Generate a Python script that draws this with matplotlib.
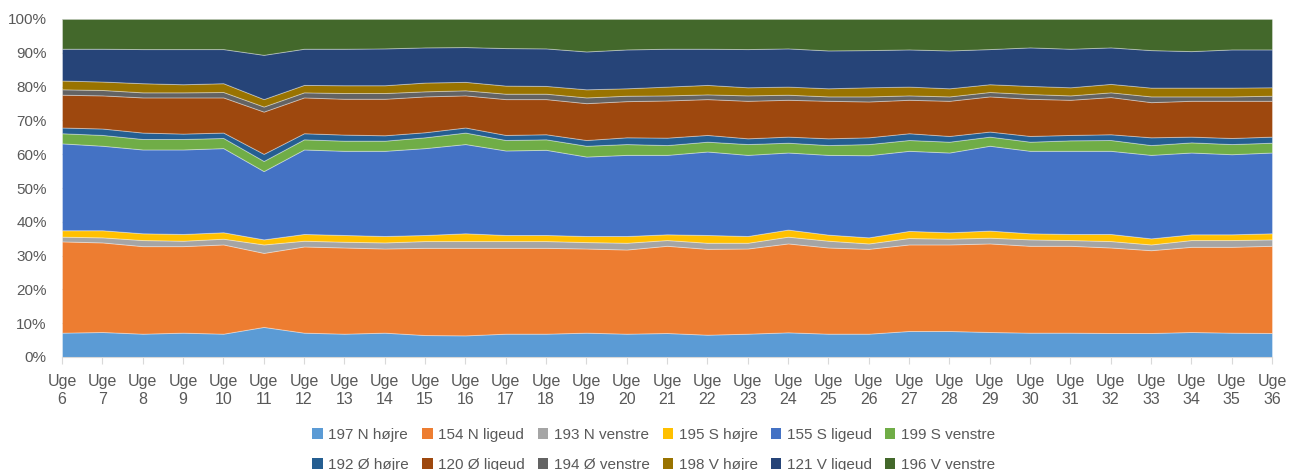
import matplotlib
matplotlib.use("Agg")
import matplotlib.pyplot as plt
from matplotlib.patches import Patch
from matplotlib.ticker import PercentFormatter
import numpy as np

plt.rcParams['font.family'] = ['Liberation Sans', 'DejaVu Sans']

weeks = list(range(6, 37))
week_labels = ["Uge\n%d" % w for w in weeks]

series_names = ["197 N højre", "154 N ligeud", "193 N venstre", "195 S højre",
                "155 S ligeud", "199 S venstre", "192 Ø højre", "120 Ø ligeud",
                "194 Ø venstre", "198 V højre", "121 V ligeud", "196 V venstre"]

# share of traffic per turning movement, week 6 .. week 36 (percent)
n_hojre = [7.2, 7.4, 6.9, 7.2, 6.9, 8.9, 7.2, 6.9, 7.2, 6.5, 6.4, 6.9, 6.9, 7.2, 6.9, 7.1,
           6.6, 6.9, 7.3, 6.9, 6.9, 7.7, 7.7, 7.4, 7.2, 7.2, 7.1, 7.1, 7.4, 7.2, 7.1]
n_ligeud = [27.0, 26.5, 25.9, 25.6, 26.4, 21.9, 25.5, 25.5, 24.9, 25.8, 25.9, 25.4, 25.4, 24.9, 24.9, 25.8,
            25.4, 25.2, 26.3, 25.5, 25.1, 25.6, 25.6, 26.2, 25.7, 25.7, 25.3, 24.5, 25.2, 25.4, 25.8]
n_venstre = [1.4, 1.5, 1.8, 1.6, 1.7, 2.5, 1.7, 1.7, 1.8, 2.0, 2.0, 2.0, 2.0, 1.9, 2.0, 1.7,
             1.8, 1.7, 2.0, 2.0, 1.6, 1.9, 1.7, 1.7, 1.9, 1.7, 1.9, 1.7, 2.0, 2.0, 1.9]
s_hojre = [1.9, 2.1, 2.0, 2.0, 1.9, 1.5, 2.0, 2.0, 1.9, 1.8, 2.3, 1.8, 1.8, 1.8, 2.0, 1.7,
           2.3, 2.0, 2.1, 1.8, 1.8, 2.1, 1.9, 2.1, 1.8, 1.8, 2.1, 1.8, 1.7, 1.7, 1.8]
s_ligeud = [25.7, 25.0, 24.8, 25.0, 24.9, 20.2, 25.0, 24.9, 25.2, 25.7, 26.4, 25.0, 25.2, 23.5, 24.0, 23.5,
            24.7, 24.0, 22.8, 23.6, 24.3, 23.7, 23.6, 25.1, 24.4, 24.6, 24.6, 24.7, 24.2, 23.7, 23.9]
s_venstre = [3.0, 3.2, 3.1, 3.1, 3.0, 3.0, 3.0, 3.0, 3.0, 3.2, 3.4, 3.1, 3.1, 3.2, 3.2, 2.9,
             2.9, 3.2, 2.9, 2.9, 3.3, 3.2, 3.2, 2.7, 2.7, 3.1, 3.2, 2.9, 3.0, 3.0, 2.9]
o_hojre = [1.7, 1.9, 1.9, 1.6, 1.6, 2.1, 1.8, 1.8, 1.6, 1.5, 1.5, 1.5, 1.5, 1.7, 2.0, 2.2,
           2.0, 1.7, 1.8, 2.0, 2.0, 2.0, 1.7, 1.5, 1.7, 1.6, 1.7, 2.3, 1.7, 1.8, 1.8]
o_ligeud = [9.7, 9.8, 10.4, 10.7, 10.4, 12.5, 10.6, 10.6, 10.8, 10.6, 9.5, 10.6, 10.4, 10.9, 10.7, 11.0,
            10.6, 11.1, 10.9, 11.1, 10.6, 9.9, 10.4, 10.4, 11.0, 10.4, 11.0, 10.4, 10.6, 11.0, 10.6]
o_venstre = [1.6, 1.6, 1.5, 1.5, 1.6, 1.5, 1.5, 1.7, 1.7, 1.5, 1.5, 1.6, 1.6, 1.7, 1.6, 1.5,
             1.4, 1.6, 1.5, 1.3, 1.5, 1.3, 1.3, 1.3, 1.4, 1.3, 1.4, 1.7, 1.3, 1.3, 1.5]
v_hojre = [2.6, 2.5, 2.7, 2.4, 2.6, 2.2, 2.2, 2.3, 2.3, 2.6, 2.5, 2.4, 2.3, 2.4, 2.2, 2.6,
           2.8, 2.4, 2.4, 2.4, 2.7, 2.6, 2.4, 2.3, 2.4, 2.4, 2.5, 2.6, 2.6, 2.6, 2.5]
v_ligeud = [9.4, 9.7, 10.1, 10.4, 10.1, 13.1, 10.7, 10.8, 10.9, 10.4, 10.3, 11.1, 11.1, 11.2, 11.5, 11.2,
            10.7, 11.3, 11.3, 11.2, 11.0, 11.0, 11.2, 10.4, 11.4, 11.4, 10.8, 11.1, 10.8, 11.3, 11.2]
v_venstre = [8.8, 8.8, 8.9, 8.9, 8.9, 10.6, 8.8, 8.8, 8.7, 8.4, 8.3, 8.6, 8.7, 9.6, 9.0, 8.8,
             8.8, 8.9, 8.7, 9.3, 9.2, 9.0, 9.3, 8.9, 8.4, 8.8, 8.4, 9.2, 9.5, 9.0, 9.0]

colors = ["#5B9BD5", "#ED7D31", "#A5A5A5", "#FFC000", "#4472C4", "#70AD47",
          "#255E91", "#9E480E", "#636363", "#997300", "#264478", "#43682B"]

data = np.array([n_hojre, n_ligeud, n_venstre, s_hojre, s_ligeud, s_venstre,
                 o_hojre, o_ligeud, o_venstre, v_hojre, v_ligeud, v_venstre])
# 100% stacked: every week sums to one
shares = data / data.sum(axis=0)

fig = plt.figure(figsize=(12.89, 4.70), dpi=100)
ax = fig.add_axes([62 / 1289, 1 - 357 / 470, 1210 / 1289, 338 / 470])

ax.stackplot(weeks, shares, colors=colors, labels=series_names,
             edgecolor=(1, 1, 1, 0.35), linewidth=0.7, zorder=2)

ax.set_xlim(weeks[0], weeks[-1])
ax.set_ylim(0, 1)
ax.set_yticks(np.arange(0, 1.01, 0.1))
ax.yaxis.set_major_formatter(PercentFormatter(1.0, decimals=0))
ax.set_xticks(weeks)
ax.set_xticklabels(week_labels, linespacing=1.3)
ax.grid(axis='y', color="#D9D9D9", linewidth=0.8, zorder=0)
ax.set_axisbelow(True)

for side in ["top", "right", "left"]:
    ax.spines[side].set_visible(False)
ax.spines["bottom"].set_color("#D9D9D9")
ax.spines["bottom"].set_zorder(3)
ax.tick_params(axis='x', colors="#D9D9D9", length=5, width=0.8, pad=7,
               labelcolor="#595959", labelsize=11.5)
ax.tick_params(axis='y', length=0, pad=11, labelcolor="#595959", labelsize=11)

# legend reads row by row, matplotlib fills column by column
ncol = 6
order = [r * ncol + c for c in range(ncol) for r in range(2)]
handles = [Patch(facecolor=colors[i], edgecolor='none') for i in order]
labels = [series_names[i] for i in order]
fig.legend(handles, labels, loc='center', ncol=ncol,
           bbox_to_anchor=(0.507, 1 - 450 / 470), frameon=False,
           fontsize=11, labelcolor="#595959", handlelength=0.7, handleheight=0.7,
           handletextpad=0.35, columnspacing=0.85, labelspacing=1.05)

fig.savefig("out.png", dpi=100)
